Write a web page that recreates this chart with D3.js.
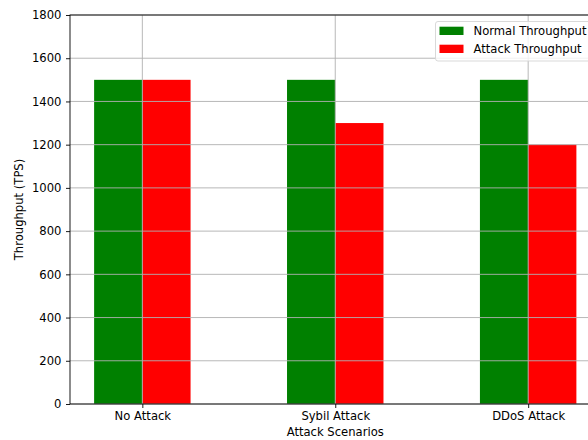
<!DOCTYPE html>
<html><head><meta charset="utf-8">
<script src="https://cdn.jsdelivr.net/npm/d3@7"></script>
<style>body{margin:0;background:#fff}svg{display:block}text{font-family:"DejaVu Sans",sans-serif;fill:#000}</style>
</head><body>
<svg id="c" width="588" height="440"></svg>
<script>
const categories = ["No Attack", "Sybil Attack", "DDoS Attack"];
const normalThroughput = [1500, 1500, 1500];
const attackThroughput = [1500, 1300, 1200];
const yTicks = [0, 200, 400, 600, 800, 1000, 1200, 1400, 1600, 1800];
const seriesNames = ["Normal Throughput", "Attack Throughput"];
const seriesColors = ["#008000", "#ff0000"];

const FS = 11.6;
const svg = d3.select("#c");
const L = 70, T = 15, B = 404, R = 600.5;
const barW = 0.25;
const x = d3.scaleLinear().domain([-0.375, 2.375]).range([L, R]);
const y = d3.scaleLinear().domain([0, 1800]).range([B, T]);

const g = svg.append("g");
const series = [normalThroughput, attackThroughput];
series.forEach((vals, si) => {
  g.selectAll(null).data(vals).enter().append("rect")
    .attr("x", (d, i) => x(i + (si === 0 ? -barW : 0)))
    .attr("width", x(barW) - x(0))
    .attr("y", d => y(d))
    .attr("height", d => y(0) - y(d))
    .attr("fill", seriesColors[si]);
});
yTicks.forEach(t => {
  g.append("line").attr("x1", L).attr("x2", R).attr("y1", y(t)).attr("y2", y(t))
    .attr("stroke", "#b0b0b0").attr("stroke-width", 0.9);
});
categories.forEach((c, i) => {
  g.append("line").attr("x1", x(i)).attr("x2", x(i)).attr("y1", T).attr("y2", B)
    .attr("stroke", "#b0b0b0").attr("stroke-width", 0.9);
});
const yAxis = d3.axisLeft(y).tickValues(yTicks).tickSize(4).tickPadding(4.5).tickFormat(d3.format("d"));
const ya = svg.append("g").attr("transform", `translate(${L},0)`).call(yAxis);
const xAxis = d3.axisBottom(x).tickValues([0, 1, 2]).tickSize(4).tickPadding(4).tickFormat(i => categories[i]);
const xa = svg.append("g").attr("transform", `translate(0,${B})`).call(xAxis);
[ya, xa].forEach(a => {
  a.select(".domain").remove();
  a.selectAll("text").attr("font-size", FS).attr("fill", "#000").style("font-family", "DejaVu Sans");
  a.selectAll("line").attr("stroke", "#000").attr("stroke-width", 0.9);
});
svg.append("rect").attr("x", L).attr("y", T).attr("width", R - L).attr("height", B - T)
  .attr("fill", "none").attr("stroke", "#000").attr("stroke-width", 0.9);
svg.append("text").attr("x", (L + R) / 2).attr("y", 436).attr("text-anchor", "middle").attr("font-size", FS).text("Attack Scenarios");
svg.append("text").attr("transform", `translate(23,${(T + B) / 2}) rotate(-90)`).attr("text-anchor", "middle").attr("font-size", FS).text("Throughput (TPS)");
const lg = svg.append("g").attr("transform", "translate(435.5,21.5)");
lg.append("rect").attr("x", 0).attr("y", 0).attr("width", 180).attr("height", 39.5).attr("rx", 2.5)
  .attr("fill", "#fff").attr("fill-opacity", 0.8).attr("stroke", "#d5d5d5").attr("stroke-width", 0.9);
seriesNames.forEach((n, i) => {
  lg.append("rect").attr("x", 4).attr("y", 5.2 + i * 18).attr("width", 24).attr("height", 8.3).attr("fill", seriesColors[i]);
  lg.append("text").attr("x", 38).attr("y", 13.2 + i * 17.8).attr("font-size", FS).text(n);
});
</script>
</body></html>
